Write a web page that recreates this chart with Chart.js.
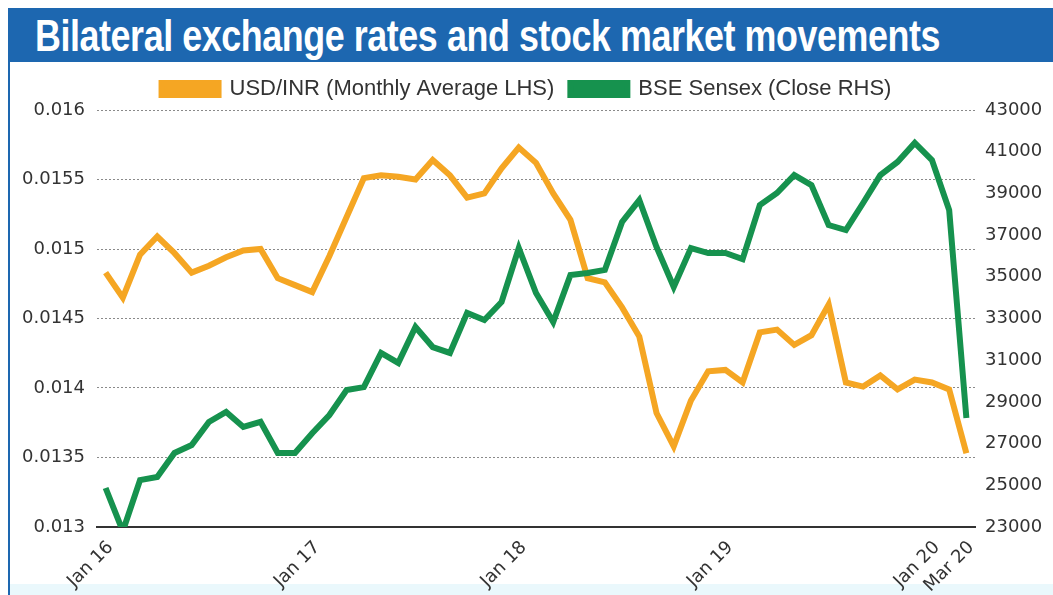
<!DOCTYPE html>
<html>
<head>
<meta charset="utf-8">
<script src="https://cdn.jsdelivr.net/npm/chart.js@4.4.1/dist/chart.umd.min.js"></script>
<style>
  html, body { margin:0; padding:0; background:#fff; }
  body { width:1053px; height:595px; position:relative; overflow:hidden; }
  #frame { position:absolute; left:8px; top:8px; width:1060px; height:600px; border:2px solid #1d67b0; box-sizing:border-box; }
  #titlebar { position:absolute; left:8px; top:9px; width:1045px; height:53px; background:#1d67b0; }
  #title { position:absolute; left:35px; top:14px; font-family:'Liberation Sans Narrow','Liberation Sans',sans-serif; font-weight:bold; font-size:44px; line-height:44px; color:#fff; white-space:nowrap; transform-origin:left top; letter-spacing:-0.5px; }
  #bottomstrip { position:absolute; left:10px; top:584px; width:1043px; height:11px; background:#eaf8fc; }
  #wrap { position:absolute; left:0; top:62px; width:1053px; height:533px; }
</style>
</head>
<body>
<div id="frame"></div>
<div id="titlebar"></div>
<div id="title">Bilateral exchange rates and stock market movements</div>
<div id="bottomstrip"></div>
<div id="wrap"><canvas id="c" width="1053" height="533"></canvas></div>
<script>
const months = [
  'Jan 16','Feb 16','Mar 16','Apr 16','May 16','Jun 16','Jul 16','Aug 16','Sep 16','Oct 16','Nov 16','Dec 16',
  'Jan 17','Feb 17','Mar 17','Apr 17','May 17','Jun 17','Jul 17','Aug 17','Sep 17','Oct 17','Nov 17','Dec 17',
  'Jan 18','Feb 18','Mar 18','Apr 18','May 18','Jun 18','Jul 18','Aug 18','Sep 18','Oct 18','Nov 18','Dec 18',
  'Jan 19','Feb 19','Mar 19','Apr 19','May 19','Jun 19','Jul 19','Aug 19','Sep 19','Oct 19','Nov 19','Dec 19',
  'Jan 20','Feb 20','Mar 20'
];
const shownTickLabels = ['Jan 16','Jan 17','Jan 18','Jan 19','Jan 20','Mar 20'];

const usdInr = [
  0.01483,0.01465,0.01496,0.01509,0.01497,0.01483,0.01488,0.01494,0.01499,0.01500,0.01479,0.01474,
  0.01469,0.01495,0.01523,0.01551,0.01553,0.01552,0.01550,0.01564,0.01553,0.01537,0.01540,0.01558,
  0.01573,0.01562,0.01540,0.01521,0.01479,0.01476,0.01458,0.01437,0.01382,0.01358,0.01391,0.01412,
  0.01413,0.01404,0.01440,0.01442,0.01431,0.01438,0.01460,0.01404,0.01401,0.01409,0.01399,0.01406,
  0.01404,0.01399,0.01353
];
const sensex = [
  24870,22800,25250,25400,26550,26930,28040,28520,27800,28040,26550,26550,
  27500,28370,29570,29710,31350,30870,32590,31630,31350,33270,32930,33790,
  36380,34220,32830,35090,35180,35330,37630,38680,36430,34510,36380,36140,
  36140,35850,38440,39020,39880,39400,37480,37240,38540,39880,40510,41420,
  40600,38200,28230
];

const leftTicks = { min:0.013, max:0.016, step:0.0005 };
const rightTicks = { min:23000, max:43000, step:2000 };

// fit title width
(function(){
  const t = document.getElementById('title');
  const w = t.getBoundingClientRect().width;
  t.style.transform = 'scaleX(' + (905 / w) + ')';
})();

const ORANGE = '#f5a623';
const GREEN = '#16924e';
const TEXT = '#333333';
const tickFont = { family:'DejaVu Sans', size:18 };

const legendHeight = {
  id:'legendHeight',
  beforeInit(chart){
    const orig = chart.legend.fit;
    chart.legend.fit = function(){ orig.call(this); this.height = 48; };
  }
};

new Chart(document.getElementById('c'), {
  type:'line',
  data:{
    labels: months,
    datasets:[
      { label:'BSE Sensex (Close RHS)', data:sensex, yAxisID:'yR', borderColor:GREEN, backgroundColor:GREEN,
        borderWidth:6, pointRadius:0, tension:0, borderJoinStyle:'miter' },
      { label:'USD/INR (Monthly Average LHS)', data:usdInr, yAxisID:'yL', borderColor:ORANGE, backgroundColor:ORANGE,
        borderWidth:6, pointRadius:0, tension:0, borderJoinStyle:'miter' }
    ]
  },
  options:{
    responsive:false,
    animation:false,
    layout:{ padding:{ top:0, bottom:0, left:0, right:0 } },
    plugins:{
      tooltip:{ enabled:false },
      legend:{
        position:'top',
        align:'center',
        labels:{
          sort:(a,b)=>b.datasetIndex - a.datasetIndex,
          boxWidth:57, boxHeight:12, padding:16,
          color:TEXT,
          font:{ family:"'Liberation Sans Narrow','Liberation Sans',sans-serif", size:22 }
        }
      }
    },
    scales:{
      x:{
        type:'category',
        offset:true,
        grid:{ display:false, drawTicks:false },
        border:{ display:true, color:'#333', width:2 },
        ticks:{
          autoSkip:false, maxRotation:45, minRotation:45, padding:10, labelOffset:5,
          color:TEXT, font:tickFont,
          callback:function(v, i){ const l = months[i]; return shownTickLabels.includes(l) ? l : ''; }
        },
        afterFit(s){ s.height = 68; }
      },
      yL:{
        position:'left',
        min:leftTicks.min, max:leftTicks.max,
        grid:{ color:'#8a8a8a', lineWidth:1, drawTicks:false },
        border:{ display:false, dash:[2,2] },
        ticks:{ stepSize:leftTicks.step, padding:12, color:TEXT, font:tickFont,
          callback:v => String(+v.toFixed(5)) },
        afterFit(s){ s.width = 97; }
      },
      yR:{
        position:'right',
        min:rightTicks.min, max:rightTicks.max,
        grid:{ display:false, drawTicks:false },
        border:{ display:false },
        ticks:{ stepSize:rightTicks.step, padding:10, color:TEXT, font:tickFont,
          callback:v => String(v) },
        afterFit(s){ s.width = 78; }
      }
    }
  },
  plugins:[legendHeight]
});
</script>
</body>
</html>
